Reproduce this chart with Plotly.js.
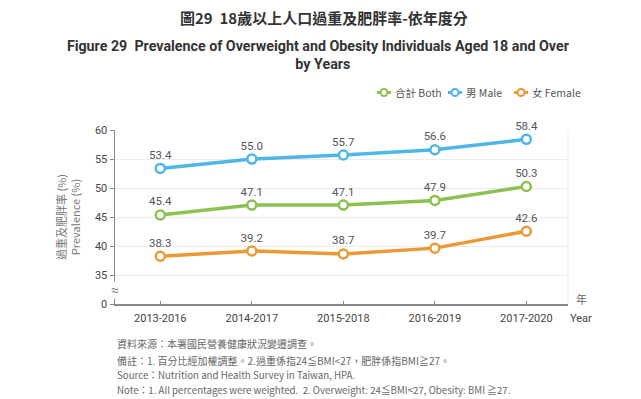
<!DOCTYPE html>
<html>
<head>
<meta charset="utf-8">
<script src="https://cdn.plot.ly/plotly-3.0.1.min.js"></script>
<style>html,body{margin:0;padding:0;background:#fff;}#chart{width:641px;height:399px;}</style>
</head>
<body>
<div id="chart"></div>
<script>
const categories = ["2013-2016", "2014-2017", "2015-2018", "2016-2019", "2017-2020"];
const bothValues = [45.4, 47.1, 47.1, 47.9, 50.3];
const maleValues = [53.4, 55.0, 55.7, 56.6, 58.4];
const femaleValues = [38.3, 39.2, 38.7, 39.7, 42.6];
const seriesNames = ["合計 Both", "男 Male", "女 Female"];
const yTickVals = [30.1, 35, 40, 45, 50, 55, 60];
const yTickText = ["0", "35", "40", "45", "50", "55", "60"];

const colors = ["#8cc152", "#4fb7e6", "#e99a34"];
const latin = "Roboto, 'Noto Sans CJK TC', sans-serif";
const cjk = "'Noto Sans CJK TC', Roboto, sans-serif";

// plot area in pixels (for converting decoration positions to paper coords)
const PL = 115, PR = 568, PT = 130, PB = 304;
const px = x => (x - PL) / (PR - PL);
const py = y => (PB - y) / (PB - PT);

function series(name, vals, color) {
  return {
    type: "scatter", mode: "lines+markers+text", name: name,
    x: categories, y: vals,
    text: vals.map(v => v.toFixed(1)), textposition: "top center",
    textfont: {family: latin, size: 11.5, color: "#555"},
    line: {color: color, width: 3.5},
    marker: {symbol: "circle", size: 9, color: "#fff", line: {color: color, width: 2.5}},
    cliponaxis: false, showlegend: false
  };
}

const data = [
  series(seriesNames[0], bothValues, colors[0]),
  series(seriesNames[1], maleValues, colors[1]),
  series(seriesNames[2], femaleValues, colors[2])
];

const ann = (text, x, y, opts) => Object.assign({text: text, x: x, y: y, xref: "paper", yref: "paper", showarrow: false, xanchor: "center", yanchor: "middle"}, opts);

// custom compact legend (swatch + label) matching the reference layout
const legendX = [377, 448, 514];
const legendY = 92.5;
const legendShapes = [];
const legendAnn = [];
seriesNames.forEach((n, i) => {
  const x0 = legendX[i];
  legendShapes.push({type: "line", xref: "paper", yref: "paper", x0: px(x0), x1: px(x0 + 14), y0: py(legendY), y1: py(legendY), line: {color: colors[i], width: 3}});
  legendShapes.push({type: "circle", xref: "paper", yref: "paper", x0: px(x0 + 3.5), x1: px(x0 + 10.5), y0: py(legendY + 3.5), y1: py(legendY - 3.5), fillcolor: "#fff", line: {color: colors[i], width: 2}});
  legendAnn.push(ann(n, px(x0 + 16), py(legendY), {xanchor: "left", font: {family: cjk, size: 10.5, color: "#555"}}));
});

const layout = {
  width: 641, height: 399,
  margin: {l: PL, r: 641 - PR, t: PT, b: 399 - PB},
  paper_bgcolor: "#fff", plot_bgcolor: "#fff",
  showlegend: false,
  xaxis: {
    type: "category", range: [-0.495, 4.455],
    showline: true, linecolor: "#888", linewidth: 1.5,
    showgrid: false, ticks: "inside", ticklen: 3, tickcolor: "#888",
    tickfont: {family: latin, size: 11, color: "#444"}, zeroline: false,
    ticklabelstandoff: 3
  },
  yaxis: {
    range: [30.1, 60], tickvals: yTickVals, ticktext: yTickText,
    showline: true, linecolor: "#888", linewidth: 1.5,
    showgrid: true, gridcolor: "#ececec", gridwidth: 1,
    ticks: "outside", ticklen: 4, tickcolor: "#888",
    tickfont: {family: latin, size: 11, color: "#444"}, zeroline: false,
    title: {text: "過重及肥胖率 (%)<br>Prevalence (%)", font: {family: cjk, size: 11, color: "#777"}, standoff: 12}
  },
  shapes: [
    {type: "line", xref: "paper", yref: "paper", x0: 1, x1: 1, y0: 0, y1: 1, line: {color: "#ececec", width: 1}}
  ].concat(legendShapes),
  annotations: [
    ann("圖29  18歲以上人口過重及肥胖率-依年度分", px(324), py(18), {font: {family: cjk, size: 15, weight: 700, color: "#333"}}),
    ann("Figure 29  Prevalence of Overweight and Obesity Individuals Aged 18 and Over", px(318), py(46), {font: {family: latin, size: 15.5, weight: 700, color: "#333"}}),
    ann("by Years", px(323), py(64), {font: {family: latin, size: 15.5, weight: 700, color: "#333"}}),
    ann("≈", 0, py(290), {font: {family: latin, size: 14, color: "#888"}, bgcolor: "#fff", borderpad: 0}),
    ann("年", px(581), py(299), {font: {family: cjk, size: 11, color: "#666"}}),
    ann("Year", px(581), py(318), {font: {family: latin, size: 11, color: "#444"}}),
    ann("資料來源：本署國民營養健康狀況變遷調查。", 0, py(343), {xanchor: "left", font: {family: cjk, size: 10, color: "#666"}}),
    ann("備註：1. 百分比經加權調整。2.過重係指24≦BMI<27，肥胖係指BMI≧27。", 0, py(360), {xanchor: "left", font: {family: cjk, size: 10, color: "#666"}}),
    ann("Source：Nutrition and Health Survey in Taiwan, HPA.", 0, py(375), {xanchor: "left", font: {family: cjk, size: 9.7, color: "#666"}}),
    ann("Note：1. All percentages were weighted.  2. Overweight: 24≦BMI<27, Obesity: BMI ≧27.", 0, py(390), {xanchor: "left", font: {family: cjk, size: 9.7, color: "#666"}})
  ].concat(legendAnn)
};

Plotly.newPlot("chart", data, layout, {displayModeBar: false, staticPlot: true}).then(gd => {
  // condense the English title lines like the reference's narrow typeface
  const targets = {1: 502, 2: 55};
  Object.keys(targets).forEach(k => {
    const g = gd.querySelector('g.annotation[data-index="' + k + '"]');
    if (!g) return;
    const t = g.querySelector('text.annotation-text');
    if (!t) return;
    t.setAttribute('textLength', targets[k]);
    t.setAttribute('lengthAdjust', 'spacingAndGlyphs');
  });
});
</script>
</body>
</html>
